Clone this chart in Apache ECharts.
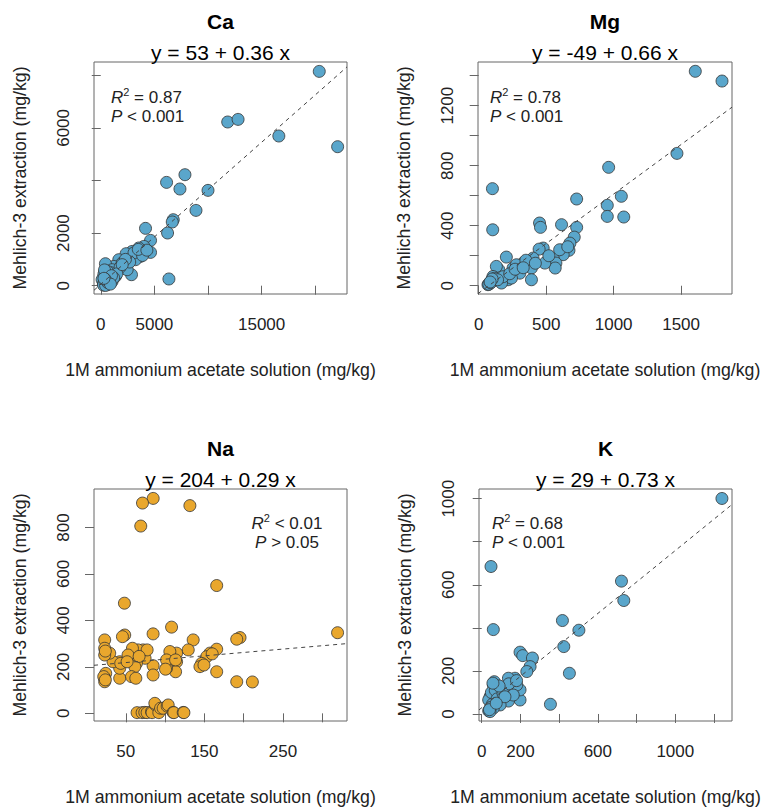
<!DOCTYPE html>
<html>
<head>
<meta charset="utf-8">
<script src="https://cdn.jsdelivr.net/npm/echarts@6/dist/echarts.min.js"></script>
<style>
html,body{margin:0;padding:0;background:#fff;}
#chart{width:763px;height:812px;}
</style>
</head>
<body>
<div id="chart"></div>
<script>
// ---------- data ----------
const panelNames = ['Ca', 'Mg', 'Na', 'K'];
const equations = ['y = 53 + 0.36 x', 'y = -49 + 0.66 x', 'y = 204 + 0.29 x', 'y = 29 + 0.73 x'];
const intercepts = [53, -49, 204, 29];
const slopes = [0.36, 0.66, 0.29, 0.73];
const r2Labels = ['= 0.87', '= 0.78', '< 0.01', '= 0.68'];
const pLabels = ['< 0.001', '< 0.001', '> 0.05', '< 0.001'];
const xTitle = '1M ammonium acetate solution (mg/kg)';
const yTitle = 'Mehlich-3 extraction (mg/kg)';

const caData = [[20374,8148],[22087,5285],[16604,5691],[11838,6224],[12804,6323],[7850,4220],[6137,3928],[7383,3676],[10000,3624],[8879,2863],[6760,2509],[6667,2422],[6230,2003],[6355,255],[4174,2180],[4642,1722],[4019,1494],[3551,1433],[4642,1266],[3707,1114],[2928,1304],[2368,1217],[3240,989],[2866,418],[1682,989],[1215,734],[436,836],[2150,673],[1994,863],[1059,608],[748,418],[280,354],[280,103],[590,38],[125,228],[1059,163],[1371,354],[2462,608],[3100,1250],[3900,1150],[2700,900],[1800,700],[900,500],[500,300],[350,150],[243,60],[400,80],[700,200],[1500,450],[600,550],[300,450],[1200,300],[800,250],[260,20],[450,10],[3500,1380],[4300,1350],[2300,1000],[2000,800],[350,600],[650,120],[1000,380],[420,240],[900,60],[300,280]];
const mgData = [[1605,1429],[1803,1364],[1469,882],[963,789],[1057,596],[953,536],[953,462],[1075,458],[726,578],[726,389],[102,647],[104,373],[451,418],[458,389],[614,407],[708,324],[676,284],[669,236],[614,236],[626,207],[552,184],[572,151],[567,118],[478,251],[448,244],[490,151],[403,184],[391,118],[391,40],[329,151],[305,84],[255,118],[205,191],[149,107],[131,129],[106,62],[94,29],[69,7],[218,40],[243,51],[169,18],[280,140],[80,15],[75,10],[90,20],[120,50],[180,60],[230,80],[350,170],[420,150],[520,200],[600,240],[660,260],[270,110],[330,120],[140,40],[100,45],[85,25]];
const naData = [[84.9,925],[71.3,905],[131.6,894],[69.1,806],[165.7,550],[48.3,474],[319.5,347],[108.3,371],[84.8,342],[48.7,337],[45.8,330],[23.2,316],[135.8,316],[195.4,326],[191.2,319],[165.7,276],[129.5,273],[157.1,259],[153,244],[146.5,215],[144.4,201],[165.7,179],[191.2,136],[211.1,135],[114.7,259],[106.1,266],[114.7,222],[113.4,179],[101.9,194],[101.9,230],[84.8,205],[84.8,165],[74.6,237],[72.1,273],[65.7,273],[58.5,280],[63.6,215],[61.5,201],[57.3,158],[62.8,151],[42.3,151],[42.3,194],[42.3,222],[33.8,222],[29.6,259],[23.2,280],[23.2,251],[24.5,172],[23.2,151],[23.2,136],[22,158],[52.9,251],[24,268],[24,144],[43.6,215],[51.7,222],[77.2,273],[67,245],[100.6,190],[113.4,230],[149.5,208],[160,256],[64.4,3],[70.8,3],[74.2,4],[77.2,3],[82.8,7],[83.5,3],[87.9,36],[87,43],[92.1,3],[94.3,22],[97.6,22],[102.7,31],[104,36],[110.3,4],[111.2,3],[123.1,4],[124,3]];
const kData = [[1241,1001],[48,685],[60,392],[722,617],[734,527],[417,434],[502,389],[424,313],[453,189],[355,45],[198,287],[212,271],[262,260],[250,220],[233,197],[198,65],[172,166],[138,166],[198,112],[181,135],[138,60],[120,112],[60,135],[86,119],[78,96],[43,80],[36,65],[69,57],[95,42],[60,27],[36,15],[43,11],[140,140],[102,85],[163,88],[50,100],[70,110],[55,45],[80,70],[45,30],[110,95],[65,150],[90,130],[40,20],[120,80],[75,50],[58,143],[180,155]];
const panelData = [caData, mgData, naData, kData];

// axis ranges and tick labels
const xRanges = [[-630, 22960], [-5, 1877], [9.6, 331.5], [-14, 1293]];
const yRanges = [[-316, 8505], [-55, 1491], [-33, 965.5], [-32.6, 1045]];
const xTicks = [[0,5000,10000,15000,20000], [0,500,1000,1500], [50,100,150,200,250,300], [0,200,400,600,800,1000,1200]];
const xTickLabels = [[0,5000,15000], [0,500,1000,1500], [50,150,250], [0,200,600,1000]];
const yTicks = [[0,2000,4000,6000,8000], [0,200,400,600,800,1000,1200,1400], [0,200,400,600,800], [0,200,400,600,800,1000]];
const yTickLabels = [[0,2000,6000], [0,400,800,1200], [0,200,400,600,800], [0,200,600,1000]];
const pointColors = ['#5aa6cb', '#5aa6cb', '#e9a72d', '#5aa6cb'];

// ---------- layout ----------
const FONT = '"Liberation Sans", Arial, Helvetica, sans-serif';
const grids = [
  {left: 94, top: 62, width: 253, height: 232},
  {left: 478, top: 62, width: 254, height: 232},
  {left: 94, top: 489, width: 253, height: 232},
  {left: 479, top: 489, width: 253, height: 232}
];
const statPos = [
  {x: 111, y: 97, align: 'left'},
  {x: 490, y: 97, align: 'left'},
  {x: 287, y: 523, align: 'center'},
  {x: 492, y: 523, align: 'left'}
];

const option = {
  animation: false,
  backgroundColor: '#fff',
  grid: [], xAxis: [], yAxis: [], series: [], graphic: []
};

const plainNum = v => String(v);

grids.forEach((g, i) => {
  option.grid.push(Object.assign({show: true, borderColor: '#666', borderWidth: 1, backgroundColor: 'transparent', containLabel: false}, g));
  option.xAxis.push({
    type: 'value', gridIndex: i, min: xRanges[i][0], max: xRanges[i][1],
    axisLine: {show: false},
    splitLine: {show: false},
    axisTick: {show: true, inside: false, length: 9, customValues: xTicks[i], lineStyle: {color: '#666'}},
    axisLabel: {show: true, margin: 22, customValues: xTickLabels[i], formatter: plainNum, fontSize: 17, fontFamily: FONT, color: '#222', showMinLabel: true, showMaxLabel: true, hideOverlap: false}
  });
  option.yAxis.push({
    type: 'value', gridIndex: i, min: yRanges[i][0], max: yRanges[i][1],
    axisLine: {show: false},
    splitLine: {show: false},
    axisTick: {show: true, inside: false, length: 9, customValues: yTicks[i], lineStyle: {color: '#666'}},
    axisLabel: {show: true, margin: 22, rotate: 90, customValues: yTickLabels[i], formatter: plainNum, fontSize: 17, fontFamily: FONT, color: '#222', showMinLabel: true, showMaxLabel: true, hideOverlap: false}
  });
  option.series.push({
    type: 'scatter', xAxisIndex: i, yAxisIndex: i, data: panelData[i],
    symbol: 'circle', symbolSize: 12, z: 2,
    itemStyle: {color: pointColors[i], borderColor: '#333', borderWidth: 0.8, opacity: 1}
  });
  const x0 = xRanges[i][0], x1 = xRanges[i][1];
  option.series.push({
    type: 'line', xAxisIndex: i, yAxisIndex: i, z: 5, silent: true, clip: true,
    showSymbol: false, symbol: 'none',
    data: [[x0, intercepts[i] + slopes[i] * x0], [x1, intercepts[i] + slopes[i] * x1]],
    lineStyle: {color: '#444', width: 1, type: [4, 4]}
  });

  const cx = g.left + g.width / 2;
  const cy = g.top + g.height / 2;
  option.graphic.push({type: 'text', x: cx, y: g.top - 41, style: {text: panelNames[i], font: 'bold 21px ' + FONT, fill: '#000', align: 'center', verticalAlign: 'middle'}});
  option.graphic.push({type: 'text', x: cx, y: g.top - 10, style: {text: equations[i], font: '21px ' + FONT, fill: '#000', align: 'center', verticalAlign: 'middle'}});
  option.graphic.push({type: 'text', x: cx, y: g.top + g.height + 76, style: {text: xTitle, font: '17.7px ' + FONT, fill: '#222', align: 'center', verticalAlign: 'middle'}});
  option.graphic.push({type: 'text', x: g.left - 74, y: cy, rotation: Math.PI / 2, style: {text: yTitle, font: '17.7px ' + FONT, fill: '#222', align: 'center', verticalAlign: 'middle'}});
  const sp = statPos[i];
  const rich = {
    it: {fontFamily: FONT, fontSize: 17, fontStyle: 'italic', fill: '#222', color: '#222'},
    sup: {fontFamily: FONT, fontSize: 11, fill: '#222', color: '#222', padding: [0, 0, 10, 0]},
    n: {fontFamily: FONT, fontSize: 17, fill: '#222', color: '#222'}
  };
  option.graphic.push({type: 'text', x: sp.x, y: sp.y, style: {text: '{it|R}{sup|2}{n| ' + r2Labels[i] + '}', rich: rich, align: sp.align, verticalAlign: 'middle', font: '17px ' + FONT}});
  option.graphic.push({type: 'text', x: sp.x, y: sp.y + 19, style: {text: '{it|P}{n| ' + pLabels[i] + '}', rich: rich, align: sp.align, verticalAlign: 'middle', font: '17px ' + FONT}});
});

const chart = echarts.init(document.getElementById('chart'), null, {renderer: 'svg', width: 763, height: 812});
chart.setOption(option);
</script>
</body>
</html>
